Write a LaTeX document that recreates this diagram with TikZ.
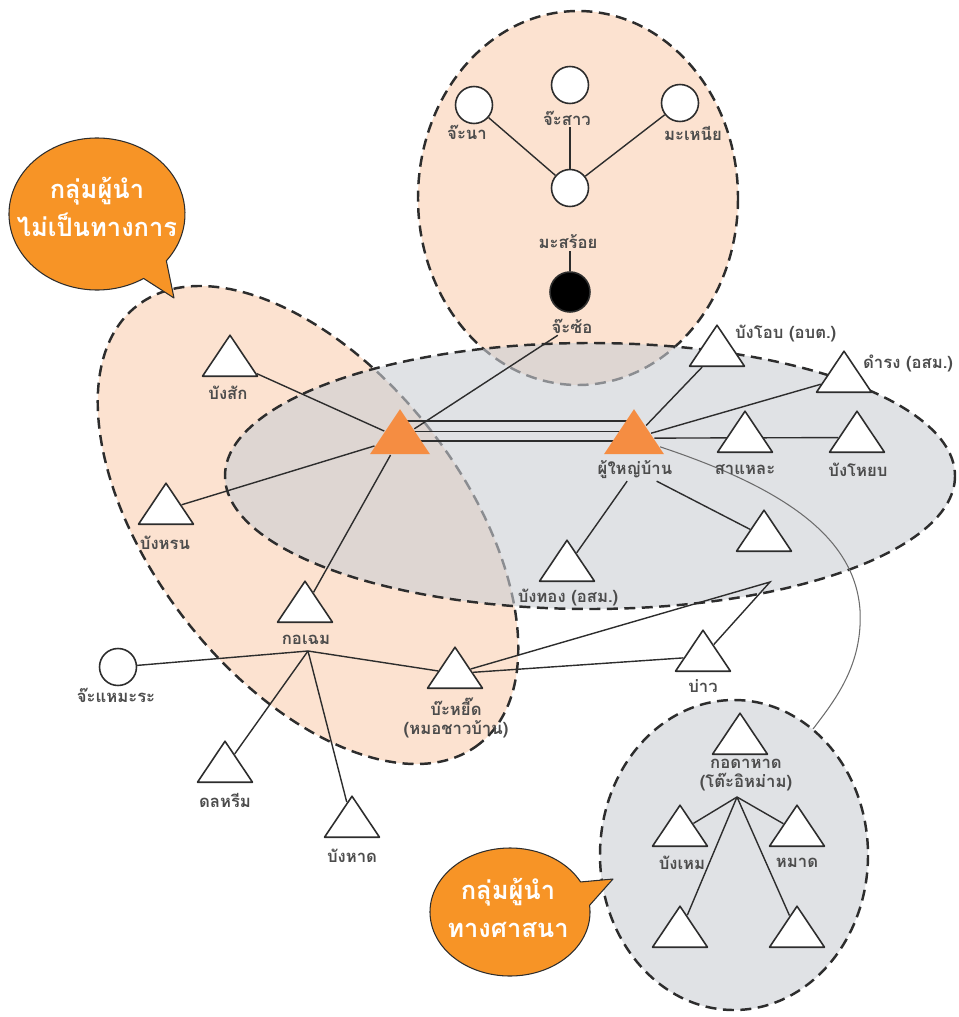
\documentclass[tikz,border=0pt]{standalone}
\usepackage{fontspec}
\newfontfamily\thaifont[Script=Thai]{Loma}
\usetikzlibrary{shapes.geometric,calc}
\pgfdeclarelayer{bg}\pgfdeclarelayer{edges}
\pgfsetlayers{bg,edges,main}
\definecolor{peach}{RGB}{252,226,208}
\definecolor{cloud}{RGB}{203,206,212}
\definecolor{tangerine}{RGB}{245,141,66}
\definecolor{bubble}{RGB}{247,148,38}
\definecolor{ink}{RGB}{45,45,45}
\tikzset{
  tri/.style={isosceles triangle, isosceles triangle stretches, shape border rotate=90,
    minimum width=1.1cm, minimum height=0.82cm, inner sep=0pt, draw=ink, line width=0.9pt,
    fill=white, anchor=lower side},
  lead/.style={tri, draw=none, fill=tangerine, minimum width=1.2cm, minimum height=0.9cm},
  dot/.style={circle, draw=ink, line width=0.9pt, fill=white, minimum size=0.74cm, inner sep=0pt},
  lbl/.style={font=\thaifont\bfseries\fontsize{9.5}{10.5}\selectfont, text=ink!85, inner sep=1pt},
  say/.style={font=\thaifont\bfseries\fontsize{14.5}{22}\selectfont, text=white, align=center},
  zone/.style={draw=ink, line width=1.4pt, dash pattern=on 0.22cm off 0.13cm},
  link/.style={draw=ink, line width=0.8pt},
  talk/.style={fill=bubble, draw=ink, line width=0.6pt}
}
\begin{document}
\begin{tikzpicture}[x=0.02cm, y=-0.02cm, line join=round, line cap=round]
\useasboundingbox (0,0) rectangle (958,1017);
\begin{pgfonlayer}{bg}
  \path[zone, fill=peach] (578,198) ellipse [x radius=160, y radius=187];
  \path[zone, fill=peach, rotate around={-52:(308,525)}] (308,525) ellipse [x radius=278, y radius=155];
  \path[zone, fill=cloud, fill opacity=0.6] (590,476) ellipse [x radius=365, y radius=133];
  \path[zone, fill=cloud, fill opacity=0.6] (734,855) ellipse [x radius=134, y radius=155];
\end{pgfonlayer}
\foreach \n/\x/\y in {bsak/230/377, bhron/166/525, korchem/305/623, biyid/455/689, donrim/225/783,
  bhad/352/838, bao/703/672, bthong/567/582, bob/717/367, damrong/844/393, salae/745/453,
  byob/857/453, tnine/764/552, kordahad/740/755, bhem/680/847, mad/797/847, tlow/680/948, tlowr/797/948}
  \node[tri] (\n) at (\x,\y) {};
\node[lead] (leadL) at (400,455) {};
\node[lead] (headman) at (634,455) {};
\foreach \n/\x/\y in {cna/474/105, csao/570/85, cmnia/680/103, cmsoi/570/188, cmera/118/667}
  \node[dot] (\n) at (\x,\y) {};
\node[dot, fill=black, minimum size=0.8cm] (cso) at (570,292) {};
\foreach \n/\x/\y/\t in {lcna/467/132/จ๊ะนา, lcsao/567/118/จ๊ะสาว, lcmnia/693/133/มะเหนีย,
  lcmsoi/568/242/มะสร้อย, lcso/572/326/จ๊ะซ้อ, lbsak/228/393/บังสัก, lbhron/165/543/บังหรน,
  lkorchem/306/640/กอเฉม, lcmera/116/695/จ๊ะแหมะระ, ldonrim/225/800/ดลหรีม, lbhad/352/856/บังหาด,
  lbao/703/686/บ่าว, lbthong/568/598/บังทอง (อสม.), lheadman/635/470/ผู้ใหญ่บ้าน,
  lsalae/745/470/สาแหละ, lbyob/858/470/บังโหยบ, lbhem/682/863/บังเหม, lmad/797/863/หมาด}
  \node[lbl] (\n) at (\x,\y) {\t};
\node[lbl, anchor=west] (lbob) at (733,334) {บังโอบ (อบต.)};
\node[lbl, anchor=west] (ldamrong) at (861,363) {ดำรง (อสม.)};
\node[lbl, align=center] (lbiyid) at (456,718) {บ๊ะหยี๊ด\\(หมอชาวบ้าน)};
\node[lbl, align=center] (lkordahad) at (746,775) {กอดาหาด\\(โต๊ะอิหม่าม)};
\coordinate (hubK) at (308,651);
\coordinate (hubD) at (737,797);
\coordinate (bend) at (770,582);
\coordinate (cEnd) at (813,729);
\begin{pgfonlayer}{edges}
  \foreach \a in {cna,cmnia} \draw[link] (\a) -- (cmsoi);
  \draw[link] (lcsao.south -| cmsoi) -- (cmsoi);
  \draw[link] (lcmsoi.south -| cso) -- (cso);
  \draw[link] (lcso) -- (leadL);
  \foreach \a in {bsak,bhron,korchem} \draw[link] (\a) -- (leadL);
  \foreach \f in {0.29,0.51,0.71}
    \draw[link] ($(leadL.apex)!\f!(leadL.lower side)$) -- ($(headman.apex)!\f!(headman.lower side)$);
  \foreach \a in {bob,damrong,byob} \draw[link] (headman) -- (\a);
  \foreach \a in {bthong,tnine} \draw[link] (lheadman) -- (\a);
  \foreach \a in {cmera,biyid,donrim,bhad} \draw[link] (hubK) -- (\a);
  \draw[link] (biyid) -- (bend) -- (bao) (biyid) -- (bao);
  \foreach \a in {bhem,mad,tlow,tlowr} \draw[link] (hubD) -- (\a);
  \draw[link, draw=ink!70, line width=0.6pt] (headman) .. controls (790,490) and (855,540) .. (860,610)
    .. controls (863,665) and (835,700) .. (cEnd);
\end{pgfonlayer}
\path[talk] (97,214) ++(58:88 and 76) arc [start angle=58, end angle=398, x radius=88, y radius=76] -- (174,298) -- cycle;
\node[say] (tagA) at (97,207) {กลุ่มผู้นำ\\ไม่เป็นทางการ};
\path[talk] (510,912) ++(-6:80 and 64) arc [start angle=-6, end angle=332, x radius=80, y radius=64] -- (613,879) -- cycle;
\node[say] (tagB) at (508,908) {กลุ่มผู้นำ\\ทางศาสนา};
\end{tikzpicture}
\end{document}
